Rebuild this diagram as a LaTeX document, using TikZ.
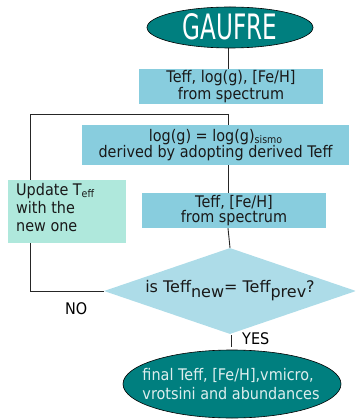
\documentclass[tikz,border=0pt]{standalone}
\usepackage{fontspec}
\setmainfont[FakeStretch=0.9]{DejaVu Sans}
\newfontfamily\plainfont{DejaVu Sans}
\usetikzlibrary{shapes.geometric,backgrounds}
\definecolor{tealc}{HTML}{007F7F}
\definecolor{boxc}{HTML}{88CDDE}
\definecolor{diac}{HTML}{ADDCE8}
\definecolor{updc}{HTML}{AFE8DC}
\definecolor{lightt}{HTML}{DDEEEE}
\newcommand{\smallsub}[1]{\raisebox{-0.15em}{\fontsize{10.5}{10.5}\selectfont #1}}
\begin{document}
\begin{tikzpicture}[x=1pt,y=-1pt,
  conn/.style={draw=black!85,line width=0.9pt},
  bluebox/.style={rectangle,fill=boxc,inner sep=0pt,align=center,text=black!90},
  oval/.style={ellipse,draw=black,line width=0.6pt,fill=tealc,inner sep=0pt}]
\useasboundingbox (0,0) rectangle (355,419);
\clip (0,0) rectangle (355,419);
\node[oval,minimum width=166pt,minimum height=41pt] (gaufre) at (230,27.5) {};
\node[text=white,inner sep=0pt] (gt) at (230,26.5)
  {\scalebox{0.66}[1]{\plainfont\fontsize{35}{35}\selectfont GAUFRE}};
\node[bluebox,minimum width=184pt,minimum height=35pt,font=\fontsize{16}{12}\selectfont] (b1) at (231,86.5)
  {Teff, log(g), [Fe/H]\\from spectrum};
\node[bluebox,minimum width=267pt,minimum height=40pt,font=\fontsize{16}{16.5}\selectfont] (b2) at (215.5,145)
  {log(g) = log(g)\smallsub{sismo}\\derived by adopting derived Teff};
\node[bluebox,minimum width=184pt,minimum height=35pt,font=\fontsize{16}{11.5}\selectfont] (b3) at (234,210.5)
  {Teff, [Fe/H]\\from spectrum};
\node[rectangle,fill=updc,minimum width=118pt,minimum height=63pt,inner sep=0pt] (upd) at (67,211.5) {};
\node[anchor=north west,align=left,inner sep=0pt,font=\fontsize{16}{18}\selectfont,text=black!90] (updt) at (16,183)
  {Update T\smallsub{eff}\\with the\\new one};
\node[diamond,fill=diac,minimum width=252pt,minimum height=86pt,aspect=2.93,inner sep=0pt,
  font=\plainfont\fontsize{16}{16}\selectfont,text=black!90] (dia) at (230,291)
  {is Teff\raisebox{-5pt}{new}= Teff\raisebox{-5pt}{prev}?};
\node[oval,minimum width=218pt,minimum height=68pt] (fin) at (232,384) {};
\node[text=lightt,align=left,inner sep=0pt,font=\fontsize{16}{19}\selectfont] (fint) at (231,384)
  {final Teff, [Fe/H],vmicro,\\vrotsini and abundances};
\node[font=\fontsize{16}{16}\selectfont,anchor=base west,inner sep=0pt] (no) at (65,314) {NO};
\node[font=\fontsize{16}{16}\selectfont,anchor=base west,inner sep=0pt] (yes) at (242,344) {YES};
\coordinate (j) at (228,114);
\coordinate (c) at (30,114);
\coordinate (d) at (30,291);
\coordinate (y1) at (231,335);
\coordinate (y2) at (231,347);
\begin{pgfonlayer}{background}
\draw[conn] (gaufre.south -| j) -- (b1.south -| j);
\draw[conn] (j) -- (b2.north -| j);
\draw[conn] (j) -- (c) -- (d) -- (dia.west);
\draw[conn] (b2.south -| j) -- (b3.north -| j);
\draw[conn] (b3.south -| j) -- (dia.north);
\end{pgfonlayer}
\draw[conn] (y1) -- (y2);
\end{tikzpicture}
\end{document}
